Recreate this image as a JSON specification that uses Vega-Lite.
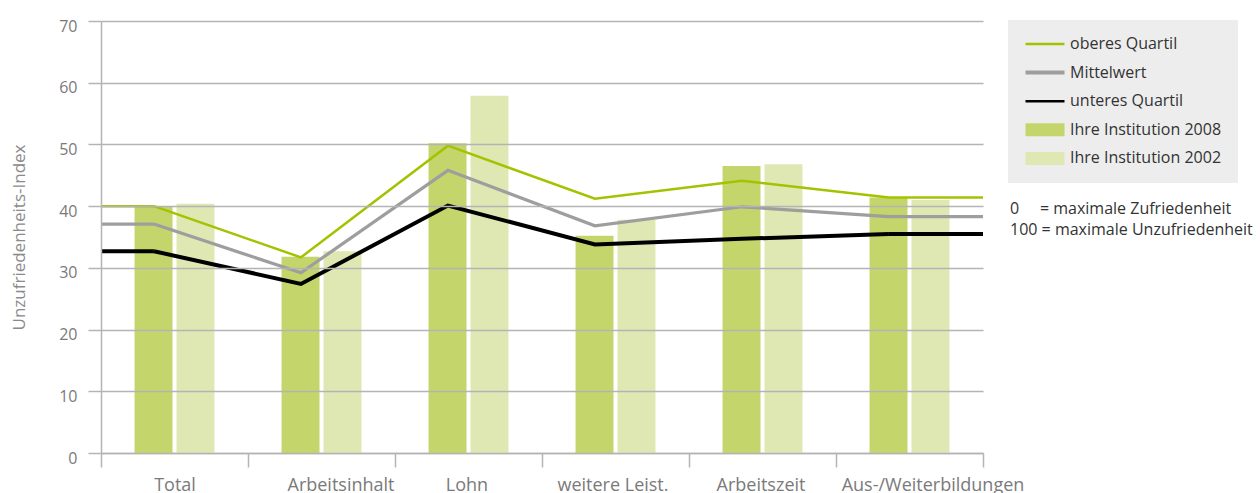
{
  "$schema": "https://vega.github.io/schema/vega-lite/v6.json",
  "width": 882,
  "height": 432,
  "autosize": {"type": "none"},
  "padding": {"left": 101, "top": 21, "right": 277, "bottom": 40},
  "background": "white",
  "config": {
    "view": {"stroke": null},
    "font": "Open Sans",
    "axisX": {
      "title": null,
      "labelAngle": 0,
      "tickBand": "extent",
      "domainColor": "#b4b4b4",
      "domainWidth": 1.5,
      "tickColor": "#b4b4b4",
      "tickWidth": 1.5,
      "tickSize": 14,
      "labelFontSize": 18,
      "labelColor": "#7a7a7a",
      "labelPadding": 9,
      "labelLimit": 300,
      "zindex": 1
    }
  },
  "title": {
    "text": ["0\u00a0\u00a0\u00a0\u00a0\u00a0= maximale Zufriedenheit", "100 = maximale Unzufriedenheit"],
    "orient": "top",
    "anchor": "end",
    "frame": "group",
    "align": "left",
    "baseline": "top",
    "dx": 27,
    "dy": 224,
    "fontSize": 16,
    "font": "Open Sans",
    "fontWeight": "normal",
    "color": "#333333",
    "lineHeight": 21
  },
  "data": {
    "values": [
      {"cat": "Total", "series": "Ihre Institution 2008", "value": 39.9},
      {"cat": "Arbeitsinhalt", "series": "Ihre Institution 2008", "value": 31.8},
      {"cat": "Lohn", "series": "Ihre Institution 2008", "value": 50.2},
      {"cat": "weitere Leist.", "series": "Ihre Institution 2008", "value": 35.2},
      {"cat": "Arbeitszeit", "series": "Ihre Institution 2008", "value": 46.5},
      {"cat": "Aus-/Weiterbildungen", "series": "Ihre Institution 2008", "value": 41.4},
      {"cat": "Total", "series": "Ihre Institution 2002", "value": 40.4},
      {"cat": "Arbeitsinhalt", "series": "Ihre Institution 2002", "value": 32.7},
      {"cat": "Lohn", "series": "Ihre Institution 2002", "value": 57.9},
      {"cat": "weitere Leist.", "series": "Ihre Institution 2002", "value": 37.8},
      {"cat": "Arbeitszeit", "series": "Ihre Institution 2002", "value": 46.8},
      {"cat": "Aus-/Weiterbildungen", "series": "Ihre Institution 2002", "value": 41.0},
      {"cat": "Total", "series": "oberes Quartil", "value": 40.0},
      {"cat": "Arbeitsinhalt", "series": "oberes Quartil", "value": 31.7},
      {"cat": "Lohn", "series": "oberes Quartil", "value": 49.8},
      {"cat": "weitere Leist.", "series": "oberes Quartil", "value": 41.2},
      {"cat": "Arbeitszeit", "series": "oberes Quartil", "value": 44.1},
      {"cat": "Aus-/Weiterbildungen", "series": "oberes Quartil", "value": 41.4},
      {"cat": "Total", "series": "Mittelwert", "value": 37.1},
      {"cat": "Arbeitsinhalt", "series": "Mittelwert", "value": 29.2},
      {"cat": "Lohn", "series": "Mittelwert", "value": 45.8},
      {"cat": "weitere Leist.", "series": "Mittelwert", "value": 36.8},
      {"cat": "Arbeitszeit", "series": "Mittelwert", "value": 39.9},
      {"cat": "Aus-/Weiterbildungen", "series": "Mittelwert", "value": 38.3},
      {"cat": "Total", "series": "unteres Quartil", "value": 32.7},
      {"cat": "Arbeitsinhalt", "series": "unteres Quartil", "value": 27.4},
      {"cat": "Lohn", "series": "unteres Quartil", "value": 40.1},
      {"cat": "weitere Leist.", "series": "unteres Quartil", "value": 33.8},
      {"cat": "Arbeitszeit", "series": "unteres Quartil", "value": 34.7},
      {"cat": "Aus-/Weiterbildungen", "series": "unteres Quartil", "value": 35.5}
    ]
  },
  "encoding": {
    "y": {
      "field": "value",
      "type": "quantitative",
      "scale": {"domain": [0, 70], "nice": false},
      "axis": {
        "title": "Unzufriedenheits-Index",
        "values": [0, 10, 20, 30, 40, 50, 60, 70],
        "grid": true,
        "gridColor": "#b4b4b4",
        "gridWidth": 1.5,
        "domainColor": "#b4b4b4",
        "domainWidth": 1.5,
        "tickColor": "#b4b4b4",
        "tickWidth": 1.5,
        "tickSize": 13,
        "labelFontSize": 16,
        "labelColor": "#7a7a7a",
        "labelPadding": 11,
        "labelOffset": 5,
        "titleFontSize": 17,
        "titleFontWeight": "normal",
        "titleColor": "#8a8a8a",
        "titlePadding": 30,
        "zindex": 1
      }
    },
    "color": {
      "field": "series",
      "type": "nominal",
      "scale": {
        "domain": ["oberes Quartil", "Mittelwert", "unteres Quartil", "Ihre Institution 2008", "Ihre Institution 2002"],
        "range": ["#a3c300", "#9e9e9e", "#000000", "#c4d66b", "#dfe7b3"]
      },
      "legend": {
        "title": null,
        "orient": "none",
        "legendX": 907,
        "legendY": -1,
        "fillColor": "#ededed",
        "padding": 16,
        "labelFont": "Open Sans",
        "labelFontSize": 16,
        "labelColor": "#333333",
        "labelLimit": 400,
        "symbolSize": 169,
        "labelOffset": 30,
        "rowPadding": 12.6,
        "encode": {
          "symbols": {
            "update": {
              "shape": {"signal": "indexof(['Ihre Institution 2008','Ihre Institution 2002'], datum.value) >= 0 ? 'M-1,-1H5V1H-1Z' : 'M-1,0H5'"},
              "fill": {"signal": "indexof(['Ihre Institution 2008','Ihre Institution 2002'], datum.value) >= 0 ? scale('color', datum.value) : 'transparent'"},
              "stroke": {"signal": "indexof(['Ihre Institution 2008','Ihre Institution 2002'], datum.value) >= 0 ? 'transparent' : scale('color', datum.value)"},
              "strokeWidth": {"signal": "datum.value == 'Mittelwert' ? 4 : (indexof(['Ihre Institution 2008','Ihre Institution 2002'], datum.value) >= 0 ? 0 : 2.5)"},
              "opacity": {"value": 1}
            }
          }
        }
      }
    }
  },
  "layer": [
    {
      "transform": [{"filter": "indexof(['Ihre Institution 2008','Ihre Institution 2002'], datum.series) >= 0"}],
      "mark": {"type": "bar", "opacity": 1},
      "encoding": {
        "x": {
          "field": "cat",
          "type": "nominal",
          "scale": {"domain": ["Total", "Arbeitsinhalt", "Lohn", "weitere Leist.", "Arbeitszeit", "Aus-/Weiterbildungen"], "paddingInner": 0, "paddingOuter": 0},
          "axis": {
            "labelOffset": {
              "condition": [
                {"test": "datum.value == 'Arbeitsinhalt'", "value": 19},
                {"test": "datum.value == 'Aus-/Weiterbildungen'", "value": 23},
                {"test": "datum.value == 'weitere Leist.'", "value": -3},
                {"test": "datum.value == 'Total'", "value": 0}
              ],
              "value": -2
            }
          }
        },
        "xOffset": {
          "field": "series",
          "scale": {"domain": ["Ihre Institution 2008", "Ihre Institution 2002"], "paddingInner": 0.095, "paddingOuter": 0.8}
        }
      }
    },
    {
      "transform": [{"filter": "indexof(['oberes Quartil','Mittelwert','unteres Quartil'], datum.series) >= 0"}],
      "mark": {"type": "line", "strokeJoin": "miter"},
      "encoding": {
        "x": {"field": "cat", "type": "nominal", "bandPosition": 0.36},
        "strokeWidth": {
          "field": "series",
          "type": "nominal",
          "scale": {"domain": ["oberes Quartil", "Mittelwert", "unteres Quartil"], "range": [2.5, 4, 2.5]},
          "legend": null
        }
      }
    },
    {
      "transform": [{"filter": "datum.cat == 'Total' && indexof(['oberes Quartil','Mittelwert','unteres Quartil'], datum.series) >= 0"}],
      "mark": {"type": "rule"},
      "encoding": {
        "x": {"field": "cat", "type": "nominal", "bandPosition": 0},
        "x2": {"field": "cat", "bandPosition": 0.36},
        "strokeWidth": {"field": "series", "type": "nominal", "legend": null}
      }
    },
    {
      "transform": [{"filter": "datum.cat == 'Aus-/Weiterbildungen' && indexof(['oberes Quartil','Mittelwert','unteres Quartil'], datum.series) >= 0"}],
      "mark": {"type": "rule"},
      "encoding": {
        "x": {"field": "cat", "type": "nominal", "bandPosition": 0.36},
        "x2": {"field": "cat", "bandPosition": 1},
        "strokeWidth": {"field": "series", "type": "nominal", "legend": null}
      }
    }
  ]
}
